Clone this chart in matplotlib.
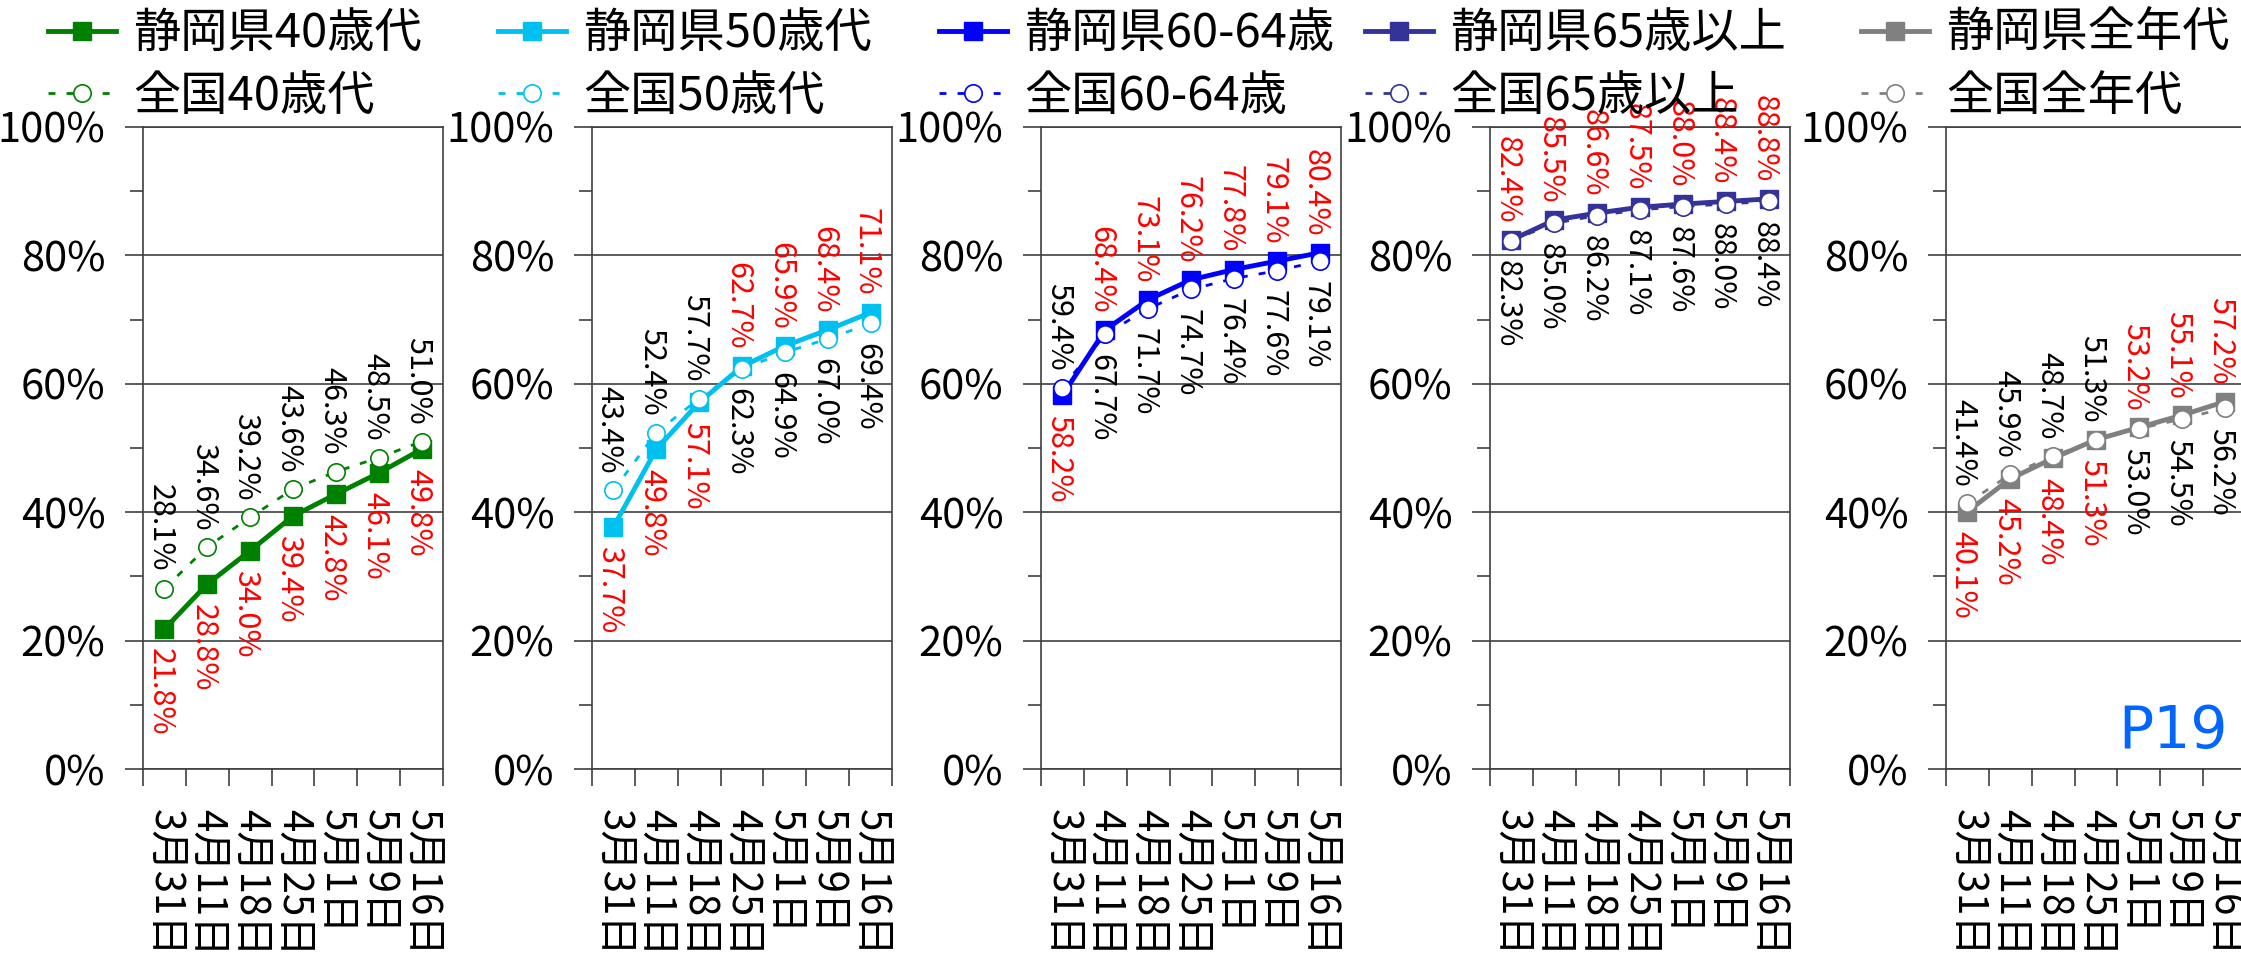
import matplotlib
matplotlib.use('Agg')
import matplotlib.pyplot as plt
from matplotlib.ticker import MultipleLocator, FuncFormatter

plt.rcParams['font.family'] = ['Noto Sans CJK JP', 'DejaVu Sans']

# 日付
dates = ['3月31日', '4月11日', '4月18日', '4月25日', '5月1日', '5月9日', '5月16日']

# 静岡県 / 全国 (%)
shizuoka_40 = [21.8, 28.8, 34.0, 39.4, 42.8, 46.1, 49.8]
zenkoku_40 = [28.1, 34.6, 39.2, 43.6, 46.3, 48.5, 51.0]
shizuoka_50 = [37.7, 49.8, 57.1, 62.7, 65.9, 68.4, 71.1]
zenkoku_50 = [43.4, 52.4, 57.7, 62.3, 64.9, 67.0, 69.4]
shizuoka_60 = [58.2, 68.4, 73.1, 76.2, 77.8, 79.1, 80.4]
zenkoku_60 = [59.4, 67.7, 71.7, 74.7, 76.4, 77.6, 79.1]
shizuoka_65 = [82.4, 85.5, 86.6, 87.5, 88.0, 88.4, 88.8]
zenkoku_65 = [82.3, 85.0, 86.2, 87.1, 87.6, 88.0, 88.4]
shizuoka_all = [40.1, 45.2, 48.4, 51.3, 53.2, 55.1, 57.2]
zenkoku_all = [41.4, 45.9, 48.7, 51.3, 53.0, 54.5, 56.2]

labels_s = ['静岡県40歳代', '静岡県50歳代', '静岡県60-64歳', '静岡県65歳以上', '静岡県全年代']
labels_z = ['全国40歳代', '全国50歳代', '全国60-64歳', '全国65歳以上', '全国全年代']
colors = ['#008000', '#00C0F0', '#0000FF', '#333399', '#808080']

panels = [
    (shizuoka_40, zenkoku_40),
    (shizuoka_50, zenkoku_50),
    (shizuoka_60, zenkoku_60),
    (shizuoka_65, zenkoku_65),
    (shizuoka_all, zenkoku_all),
]

W, H = 2241, 971
fig = plt.figure(figsize=(W / 100, H / 100), dpi=100)

ax_left = [143, 592, 1041, 1490, 1946]
leg_left = [48, 498, 939, 1365, 1861]
ax_w = 300
ax_bottom = H - 769
ax_h = 769 - 127

for i, (s_vals, z_vals) in enumerate(panels):
    ax = fig.add_axes([ax_left[i] / W, ax_bottom / H, ax_w / W, ax_h / H])
    c = colors[i]
    x = list(range(len(dates)))
    ax.plot(x, s_vals, '-', color=c, lw=3.5, marker='s', ms=13, mec=c, mfc=c,
            label=labels_s[i], zorder=3)
    ax.plot(x, z_vals, color=c, lw=2, ls=(0, (2.5, 4)), marker='o', ms=12.5,
            mfc='white', mec=c, mew=1.2, label=labels_z[i], zorder=4)

    # データラベル
    for k in x:
        s, z = s_vals[k], z_vals[k]
        s_up = s > z
        for v, col, up in [(s, 'red', s_up), (z, 'black', not s_up)]:
            ax.annotate('%.1f%%' % v, (k, v), xytext=(-3, 12 if up else -14),
                        textcoords='offset points', rotation=-90,
                        ha='center', va='bottom' if up else 'top',
                        color=col, fontsize=22, zorder=5)

    ax.set_ylim(0, 100)
    ax.set_xlim(-0.5, len(dates) - 0.5)
    ax.yaxis.set_major_locator(MultipleLocator(20))
    ax.yaxis.set_minor_locator(MultipleLocator(10))
    ax.yaxis.set_major_formatter(FuncFormatter(lambda v, p: '%d%%' % v))
    ax.tick_params(axis='y', which='major', direction='out', length=13, width=1.2,
                   color='#3f3f3f', labelsize=30, pad=14)
    ax.tick_params(axis='y', which='minor', direction='out', length=9.5, width=1.2,
                   color='#3f3f3f')
    ax.set_xticks([k - 0.5 for k in range(len(dates) + 1)])
    ax.set_xticklabels([])
    ax.set_xticks(x, labels=dates, minor=True)
    ax.tick_params(axis='x', which='major', direction='out', length=12, width=1.2,
                   color='#3f3f3f')
    ax.tick_params(axis='x', which='minor', length=0, pad=29, labelsize=29,
                   labelrotation=-90)
    ax.grid(axis='y', which='major', color='#3f3f3f', lw=1.2)
    ax.set_axisbelow(True)
    for sp in ax.spines.values():
        sp.set_color('#3f3f3f')
        sp.set_linewidth(1.2)

    ax.legend(loc='upper left', bbox_to_anchor=(leg_left[i] / W, 0.99),
              bbox_transform=fig.transFigure, frameon=False, fontsize=34,
              borderpad=0, borderaxespad=0, handlelength=1.45, handletextpad=0.35,
              labelspacing=0.3, markerscale=1.0)

fig.text(2228 / W, (H - 760) / H, 'P19', color='#0066FF', fontsize=42,
         ha='right', va='bottom', family='DejaVu Sans')

fig.savefig('out.png', dpi=100)
